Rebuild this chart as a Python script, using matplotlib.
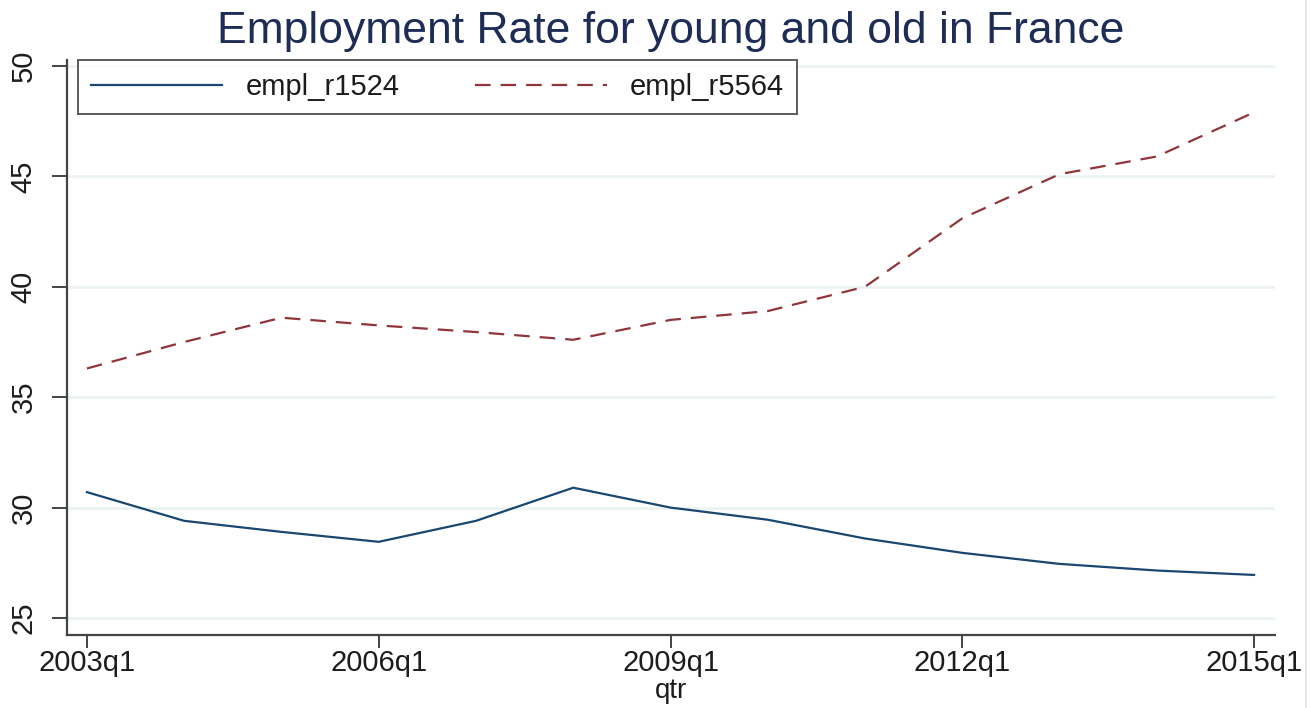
import matplotlib
matplotlib.use("Agg")
import matplotlib.pyplot as plt
from matplotlib.lines import Line2D

# yearly readings, first quarter of each year
years = list(range(2003, 2016))
empl_r1524 = [30.7, 29.4, 28.9, 28.45, 29.4, 30.9, 30.0, 29.45, 28.6, 27.95, 27.45, 27.15, 26.95]
empl_r5564 = [36.3, 37.5, 38.6, 38.25, 37.95, 37.6, 38.5, 38.9, 40.0, 43.1, 45.1, 45.9, 47.9]
xtick_years = [2003, 2006, 2009, 2012, 2015]
yticks = [25, 30, 35, 40, 45, 50]

plt.rcParams['font.family'] = ['Liberation Sans', 'DejaVu Sans']

# quarter index counted from 2003q1
qtr = [(y - 2003) * 4 for y in years]

fig = plt.figure(figsize=(13.1, 7.08), dpi=100)
ax = fig.add_axes([67 / 1310, 73 / 708, 1208 / 1310, 575 / 708])

ax.plot(qtr, empl_r1524, color='#1a476f', lw=1.6, label='empl_r1524')
ax.plot(qtr, empl_r5564, color='#90353b', lw=1.6, linestyle=(0, (7, 4.5)), label='empl_r5564')

ax.set_xlim(-0.82, 48.86)
ax.set_ylim(24.23, 50.27)

ax.set_xticks([(y - 2003) * 4 for y in xtick_years])
ax.set_xticklabels([f'{y}q1' for y in xtick_years])
ax.set_yticks(yticks)
ax.set_yticklabels([str(v) for v in yticks], rotation=90, va='center')

ax.grid(axis='y', color='#eaf1f3', lw=1.8)
ax.set_axisbelow(True)
for s in ['top', 'right']:
    ax.spines[s].set_visible(False)
for s in ['left', 'bottom']:
    ax.spines[s].set_color('#444444')
    ax.spines[s].set_linewidth(1.6)
ax.tick_params(axis='both', width=1.4, color='#444444',
               labelsize=21, labelcolor='#1c1c1c')
ax.tick_params(axis='x', length=9, pad=1)
ax.tick_params(axis='y', length=11, pad=10)

ax.set_xlabel('qtr', fontsize=20, color='#1c1c1c', labelpad=1)
ax.set_title('Employment Rate for young and old in France', fontsize=32,
             color='#1e2d55', pad=12)

leg = ax.legend(loc='upper left', bbox_to_anchor=(0.009, 1.0), ncol=2,
                fontsize=21, frameon=True, fancybox=False, handlelength=4.5,
                handletextpad=0.8, columnspacing=2.6, borderpad=0.45,
                borderaxespad=0)
leg.get_frame().set_edgecolor('#333333')
leg.get_frame().set_linewidth(1.4)
for t in leg.get_texts():
    t.set_color('#1c1c1c')

# thin border at the right edge of the graph region
fig.add_artist(Line2D([1306 / 1310, 1306 / 1310], [0, 1], color='#e4e4e4', lw=1.2))

fig.savefig('out.png', dpi=100)
